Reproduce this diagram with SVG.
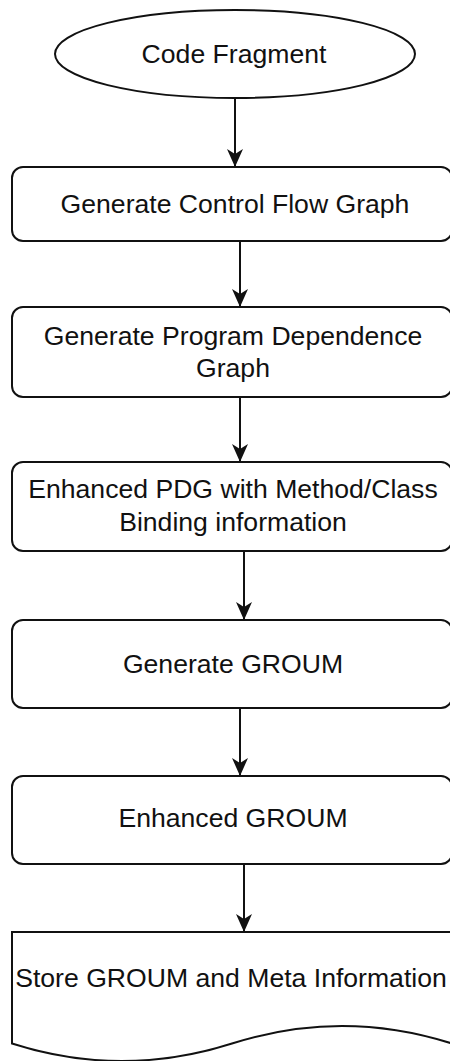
<svg xmlns="http://www.w3.org/2000/svg" width="450" height="1061" viewBox="0 0 450 1061">
  <style>
    .shape { fill: #ffffff; stroke: #111111; stroke-width: 2; }
    .label { font-family: "Liberation Sans", Arial, Helvetica, sans-serif; font-size: 26.6px; fill: #111111; text-anchor: middle; }
    .edge { fill: none; stroke: #111111; stroke-width: 2; marker-end: url(#arrow); }
  </style>
  <defs>
    <marker id="arrow" viewBox="0 0 18 16" refX="18" refY="8" markerWidth="18" markerHeight="16" markerUnits="userSpaceOnUse" orient="auto">
      <path d="M0,0 L18,8 L0,16 L5,8 Z" fill="#111111"/>
    </marker>
  </defs>
  <rect width="450" height="1061" fill="#ffffff"/>

  <g id="connectors">
    <line class="edge" x1="235" y1="98" x2="235" y2="167"/>
    <line class="edge" x1="240" y1="242" x2="240" y2="307"/>
    <line class="edge" x1="240" y1="398" x2="240" y2="462"/>
    <line class="edge" x1="244" y1="552" x2="244" y2="620"/>
    <line class="edge" x1="240" y1="709" x2="240" y2="776"/>
    <line class="edge" x1="244" y1="865" x2="244" y2="932"/>
  </g>

  <g id="code-fragment">
    <ellipse class="shape" cx="235" cy="54" rx="180" ry="44"/>
    <text class="label" x="234" y="63">Code Fragment</text>
  </g>

  <g id="generate-cfg">
    <rect class="shape" x="12" y="167" width="440" height="74" rx="11" ry="11"/>
    <text class="label" x="235" y="213">Generate Control Flow Graph</text>
  </g>

  <g id="generate-pdg">
    <rect class="shape" x="12" y="307" width="440" height="90" rx="11" ry="11"/>
    <text class="label" x="233" y="345">Generate Program Dependence</text>
    <text class="label" x="233" y="377">Graph</text>
  </g>

  <g id="enhanced-pdg">
    <rect class="shape" x="12" y="462" width="440" height="89" rx="11" ry="11"/>
    <text class="label" x="233" y="498">Enhanced PDG with Method/Class</text>
    <text class="label" x="233" y="531">Binding information</text>
  </g>

  <g id="generate-groum">
    <rect class="shape" x="12" y="620" width="440" height="88" rx="11" ry="11"/>
    <text class="label" x="233" y="673">Generate GROUM</text>
  </g>

  <g id="enhanced-groum">
    <rect class="shape" x="12" y="776" width="440" height="88" rx="11" ry="11"/>
    <text class="label" x="233" y="827">Enhanced GROUM</text>
  </g>

  <g id="store-groum">
    <path class="shape" d="M12,932 L452,932 L452,1043.5 Q342,1008.4 232,1043.5 Q122,1078.6 12,1043.5 Z"/>
    <text class="label" x="231" y="987">Store GROUM and Meta Information</text>
  </g>
</svg>
